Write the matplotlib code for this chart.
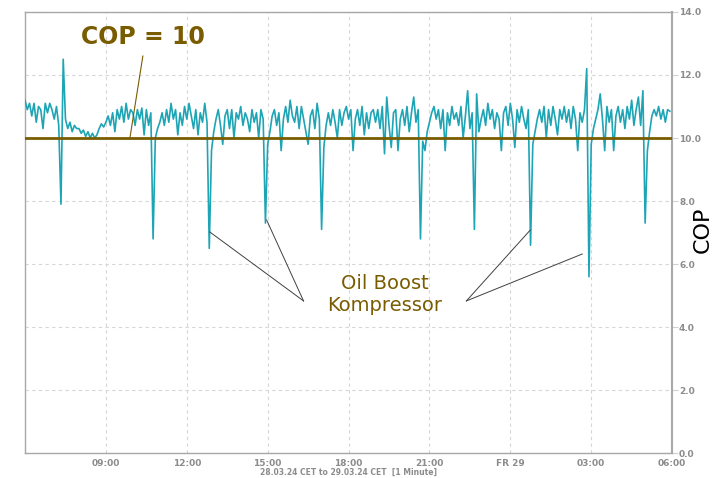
import matplotlib.pyplot as plt
import numpy as np

# COP readings, 5-minute steps from 06:00 on 28.03 to 06:00 on 29.03 (hours 6..30)
cop_by_hour = {
    6:  [11.2, 10.9, 11.1, 10.7, 11.1, 10.5, 11.0, 10.9, 10.3, 11.1, 10.8, 11.1],
    7:  [10.9, 10.6, 11.0, 10.4, 7.9, 12.5, 10.6, 10.3, 10.5, 10.2, 10.4, 10.3],
    8:  [10.3, 10.15, 10.25, 10.05, 10.2, 10.0, 10.15, 10.0, 10.1, 10.3, 10.45, 10.35],
    9:  [10.5, 10.7, 10.4, 10.8, 10.2, 10.9, 10.6, 11.0, 10.5, 11.1, 10.6, 10.9],
    10: [10.8, 10.4, 10.9, 10.6, 10.95, 10.1, 10.9, 10.4, 10.8, 6.8, 10.0, 10.3],
    11: [10.5, 10.8, 10.4, 10.9, 10.5, 11.1, 10.6, 10.9, 10.1, 10.8, 10.4, 11.0],
    12: [10.6, 11.1, 10.7, 10.3, 10.9, 10.1, 10.8, 10.5, 11.1, 10.5, 6.5, 9.6],
    13: [10.2, 10.6, 10.9, 10.4, 9.8, 10.7, 10.9, 10.3, 10.9, 10.0, 10.8, 10.6],
    14: [11.0, 10.4, 10.8, 10.6, 10.2, 10.9, 10.5, 10.8, 10.0, 10.9, 10.6, 7.3],
    15: [9.8, 10.2, 10.7, 10.9, 10.4, 10.8, 9.6, 10.6, 11.0, 10.5, 11.2, 10.7],
    16: [10.5, 11.0, 10.3, 11.0, 10.6, 10.2, 9.8, 10.7, 10.9, 10.3, 11.1, 10.6],
    17: [7.1, 9.7, 10.4, 10.8, 10.4, 10.9, 10.5, 10.0, 10.9, 10.4, 10.8, 11.0],
    18: [10.6, 10.9, 9.6, 10.6, 10.9, 10.4, 11.0, 10.1, 10.8, 10.3, 10.8, 10.9],
    19: [10.5, 10.9, 10.3, 11.0, 9.5, 11.3, 10.4, 9.7, 10.8, 10.9, 9.6, 10.6],
    20: [10.9, 10.4, 11.0, 10.2, 10.8, 11.3, 10.5, 10.9, 6.8, 9.9, 9.6, 10.2],
    21: [10.5, 10.8, 11.0, 10.6, 10.9, 10.3, 10.9, 9.6, 10.8, 10.4, 11.0, 10.6],
    22: [10.8, 10.4, 11.0, 10.0, 10.7, 11.5, 10.3, 10.8, 7.1, 11.4, 10.2, 10.6],
    23: [10.9, 10.4, 11.1, 10.6, 10.9, 10.3, 10.8, 10.6, 9.6, 10.8, 11.0, 10.4],
    24: [11.1, 10.6, 9.7, 10.9, 10.5, 11.0, 10.6, 10.3, 10.9, 6.6, 9.8, 10.2],
    25: [10.6, 10.9, 10.5, 11.0, 10.0, 10.9, 10.4, 11.0, 10.6, 10.1, 10.9, 10.6],
    26: [11.0, 10.5, 10.9, 10.3, 11.0, 10.6, 9.6, 10.8, 10.5, 10.9, 12.2, 5.6],
    27: [9.8, 10.3, 10.6, 10.9, 11.4, 10.6, 9.6, 11.0, 10.5, 10.9, 9.6, 10.7],
    28: [11.0, 10.5, 10.9, 10.3, 11.0, 10.6, 11.2, 10.4, 10.9, 11.3, 10.4, 11.5],
    29: [7.3, 9.6, 10.2, 10.7, 10.9, 10.7, 11.0, 10.6, 10.9, 10.5, 10.9, 10.85],
}

hours = []
cop = []
for h, vals in cop_by_hour.items():
    for i, v in enumerate(vals):
        hours.append(h + i * 5 / 60)
        cop.append(v)

tick_pos = [9, 12, 15, 18, 21, 24, 27, 30]
tick_lbl = ["09:00", "12:00", "15:00", "18:00", "21:00", "FR 29", "03:00", "06:00"]
y_ticks = [0, 2, 4, 6, 8, 10, 12, 14]

brown = "#7a5c00"
gray = "#8c8c8c"

fig = plt.figure(figsize=(7.15, 4.78), dpi=100)
ax = fig.add_axes([0.035, 0.052, 0.905, 0.923])

ax.plot(hours, cop, color="#1ea5b5", lw=1.2, zorder=3)
ax.axhline(10, color=brown, lw=2, zorder=4)

ax.set_xlim(6, 30)
ax.set_ylim(0, 14)
ax.set_xticks(tick_pos)
ax.set_xticklabels(tick_lbl, fontsize=6.5, fontweight="bold", color=gray)
ax.set_yticks(y_ticks)
ax.set_yticklabels([f"{v:.1f}" for v in y_ticks], fontsize=6.5, fontweight="bold", color=gray)
ax.yaxis.tick_right()
ax.tick_params(axis="x", length=0, pad=4)
ax.tick_params(axis="y", length=4, color="#d0d0d0", pad=1)
ax.grid(True, ls=(0, (3, 3)), color="#d6d6d6", lw=0.8)
for s in ax.spines.values():
    s.set_color("#a8a8a8")
    s.set_linewidth(1)
ax.spines["right"].set_linewidth(1.5)

ax.set_xlabel("28.03.24 CET to 29.03.24 CET  [1 Minute]", fontsize=5.5,
              fontweight="bold", color=gray, labelpad=0)

# annotations
ax.text(10.37, 13.2, "COP = 10", fontsize=17, fontweight="bold", color=brown,
        ha="center", va="center")
ax.plot([10.37, 9.89], [12.6, 10.0], color=brown, lw=0.8, zorder=5)

ax.text(19.33, 5.02, "Oil Boost\nKompressor", fontsize=14, color=brown,
        ha="center", va="center", linespacing=1.2)
for x0, y0, x1, y1 in [(16.33, 4.83, 12.85, 7.02), (16.33, 4.83, 14.96, 7.40),
                       (22.37, 4.83, 24.74, 7.08), (22.37, 4.83, 26.67, 6.32)]:
    ax.plot([x0, x1], [y0, y1], color="#404040", lw=0.7, zorder=5)

fig.text(0.969, 0.52, "COP", rotation=90, fontsize=16, ha="left", va="center")

fig.savefig("out.png", dpi=100)
